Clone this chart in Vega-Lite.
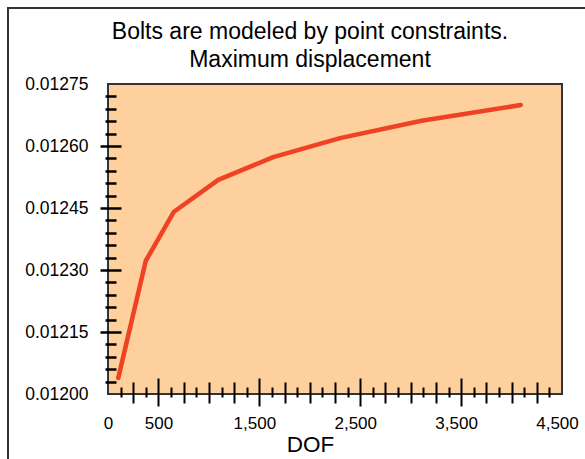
{
  "$schema": "https://vega.github.io/schema/vega-lite/v6.json",
  "autosize": {"type": "none"},
  "padding": {"left": 108, "top": 84, "right": 23, "bottom": 65},
  "width": 454,
  "height": 310,
  "title": {
    "text": ["Bolts are modeled by point constraints.", "Maximum displacement"],
    "font": "Liberation Sans",
    "fontSize": 23,
    "fontWeight": "normal",
    "color": "black",
    "lineHeight": 28,
    "offset": 0,
    "dy": 65,
    "frame": "group",
    "anchor": "middle",
    "dx": -25
  },
  "data": {
    "values": [
      {"DOF": 102, "disp": 0.012039},
      {"DOF": 374, "disp": 0.012322},
      {"DOF": 654, "disp": 0.012441},
      {"DOF": 1093, "disp": 0.012518},
      {"DOF": 1638, "disp": 0.012573},
      {"DOF": 2300, "disp": 0.012619},
      {"DOF": 3109, "disp": 0.012661},
      {"DOF": 4091, "disp": 0.012699}
    ]
  },
  "config": {
    "view": {"fill": "#FDD09D", "stroke": "#333333", "strokeWidth": 2},
    "axis": {
      "grid": false,
      "domain": false,
      "labelFont": "Liberation Sans",
      "titleFont": "Liberation Sans",
      "tickColor": "black",
      "labelColor": "black",
      "titleColor": "black"
    }
  },
  "resolve": {"axis": {"x": "independent", "y": "independent"}},
  "layer": [
    {
      "mark": {"type": "rect", "fillOpacity": 0, "stroke": "#333333", "strokeWidth": 1.5, "clip": false},
      "encoding": {
        "x": {"datum": -991, "type": "quantitative", "scale": {"domain": [0, 4500], "nice": false, "zero": false}, "axis": null},
        "x2": {"datum": 5500},
        "y": {"datum": 0.012934, "type": "quantitative", "scale": {"domain": [0.012, 0.01275], "nice": false, "zero": false}, "axis": null},
        "y2": {"datum": 0.0118}
      }
    },
    {
      "mark": {"type": "line", "color": "#EF4123", "strokeWidth": 4.5, "strokeCap": "round", "strokeJoin": "round"},
      "encoding": {
        "x": {
          "field": "DOF", "type": "quantitative",
          "scale": {"domain": [0, 4500], "nice": false, "zero": false},
          "axis": {
            "orient": "bottom",
            "values": [0, 500, 1500, 2500, 3500, 4500],
            "format": ",.0f",
            "ticks": false,
            "tickSize": 0,
            "labelPadding": 21,
            "labelFontSize": 17,
            "labelFlush": false,
            "labelOffset": {"condition": {"test": "datum.value >= 1000", "value": -5}, "value": 0},
            "title": "DOF",
            "titleFontSize": 22.5,
            "titleFontWeight": "normal",
            "titleX": 202,
            "titlePadding": 2
          }
        },
        "y": {
          "field": "disp", "type": "quantitative",
          "scale": {"domain": [0.012, 0.01275], "nice": false, "zero": false},
          "axis": {
            "orient": "left",
            "values": [0.012, 0.01215, 0.0123, 0.01245, 0.0126, 0.01275],
            "format": ".5f",
            "ticks": false,
            "tickSize": 0,
            "labelPadding": 20,
            "labelFontSize": 17.5,
            "labelFlush": false,
            "title": null
          }
        }
      }
    },
    {
      "mark": {"type": "point", "opacity": 0},
      "encoding": {
        "x": {
          "field": "DOF", "type": "quantitative",
          "scale": {"domain": [0, 4500], "nice": false, "zero": false},
          "axis": {
            "orient": "bottom",
            "values": [125, 375, 625, 875, 1125, 1375, 1625, 1875, 2125, 2375, 2625, 2875, 3125, 3375, 3625, 3875, 4125, 4375],
            "labels": false,
            "ticks": true,
            "tickSize": 10,
            "tickWidth": 2,
            "offset": -7,
            "title": null
          }
        },
        "y": {
          "field": "disp", "type": "quantitative",
          "scale": {"domain": [0.012, 0.01275], "nice": false, "zero": false},
          "axis": {
            "orient": "left",
            "values": [0.01215, 0.0123, 0.01245, 0.0126],
            "labels": false,
            "ticks": true,
            "tickSize": 21,
            "tickWidth": 2.5,
            "offset": -13,
            "title": null
          }
        }
      }
    },
    {
      "mark": {"type": "point", "opacity": 0},
      "encoding": {
        "x": {
          "field": "DOF", "type": "quantitative",
          "scale": {"domain": [0, 4500], "nice": false, "zero": false},
          "axis": {
            "orient": "bottom",
            "values": [250, 750, 1000, 1250, 1750, 2000, 2250, 2750, 3000, 3250, 3750, 4000, 4250],
            "labels": false,
            "ticks": true,
            "tickSize": 21,
            "tickWidth": 2,
            "offset": -12,
            "title": null
          }
        },
        "y": {
          "field": "disp", "type": "quantitative",
          "scale": {"domain": [0.012, 0.01275], "nice": false, "zero": false},
          "axis": {
            "orient": "left",
            "values": [0.01203, 0.01206, 0.01209, 0.01212, 0.01218, 0.01221, 0.01224, 0.01227, 0.01233, 0.01236, 0.01239, 0.01242, 0.01248, 0.01251, 0.01254, 0.01257, 0.01263, 0.01266, 0.01269, 0.01272],
            "labels": false,
            "ticks": true,
            "tickSize": 11,
            "tickWidth": 2.5,
            "offset": -8,
            "title": null
          }
        }
      }
    },
    {
      "mark": {"type": "point", "opacity": 0},
      "encoding": {
        "x": {
          "field": "DOF", "type": "quantitative",
          "scale": {"domain": [0, 4500], "nice": false, "zero": false},
          "axis": {
            "orient": "bottom",
            "values": [500, 1500, 2500, 3500],
            "labels": false,
            "ticks": true,
            "tickSize": 28,
            "tickWidth": 2,
            "offset": -16,
            "title": null
          }
        },
        "y": {
          "field": "disp", "type": "quantitative",
          "scale": {"domain": [0.012, 0.01275], "nice": false, "zero": false},
          "axis": null
        }
      }
    }
  ]
}
